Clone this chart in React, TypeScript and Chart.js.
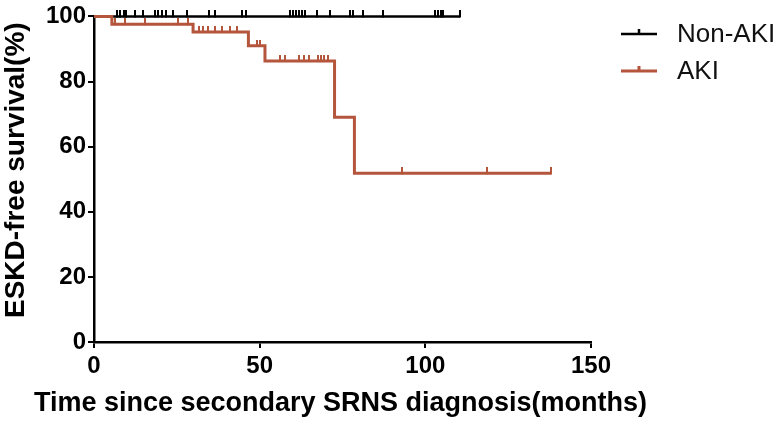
import React, { useEffect, useRef } from 'react';
import { Chart, registerables } from 'chart.js';

Chart.register(...registerables);

const xTickValues = [0, 50, 100, 150];
const yTickValues = [0, 20, 40, 60, 80, 100];
const xTitle = 'Time since secondary SRNS diagnosis(months)';
const yTitle = 'ESKD-free survival(%)';
const groupNames = ['Non-AKI', 'AKI'];
const groupColors = ['#000000', '#b4553c'];

const nonAkiTimes = [0, 110.5];
const nonAkiSurvival = [100, 100];
const nonAkiCensored = [6.9, 7.8, 9.1, 9.7, 12.4, 14.8, 18.4, 19.3, 20.5, 21.7, 23.8, 28.1, 34.7, 36.5, 44.7, 45.9, 59.2, 60.1, 61.0, 61.9, 62.8, 63.7, 67.3, 71.2, 77.3, 78.2, 81.2, 87.2, 102.9, 103.8, 104.7, 105.3, 110.5];

const akiTimes = [0, 5.4, 29.9, 46.6, 51.6, 72.6, 78.6, 138];
const akiSurvival = [100, 97.6, 95.2, 91.0, 86.3, 69.0, 51.8, 51.8];
const akiCensored = [6.2, 9.5, 15.5, 25.5, 28.4, 31.7, 32.9, 34.4, 36.5, 38.6, 41.0, 43.2, 49.2, 50.1, 56.0, 57.5, 62.0, 63.5, 65.0, 67.5, 68.5, 69.5, 70.5, 93.0, 118.6, 138];

const FONT = '"Liberation Sans", Arial, sans-serif';

function survivalAt(t: number, times: number[], surv: number[]) {
  let v = surv[0];
  for (let i = 0; i < times.length; i++) {
    if (times[i] <= t) v = surv[i];
  }
  return v;
}

function makeTick(color: string, w: number, h: number) {
  const c = document.createElement('canvas');
  c.width = w;
  c.height = h * 2;
  const ctx = c.getContext('2d')!;
  ctx.fillStyle = color;
  ctx.fillRect(0, 0, w, h + 1);
  return c;
}

const titlesPlugin = {
  id: 'kmTitles',
  afterDraw(chart: any) {
    const ctx = chart.ctx;
    const area = chart.chartArea;
    ctx.save();
    ctx.fillStyle = '#000';
    ctx.font = 'bold 27px ' + FONT;
    ctx.textAlign = 'center';
    ctx.textBaseline = 'middle';
    ctx.fillText(xTitle, (area.left + area.right) / 2 - 2, 404);
    ctx.translate(16, (area.top + area.bottom) / 2 - 9);
    ctx.rotate(-Math.PI / 2);
    ctx.font = 'bold 28px ' + FONT;
    ctx.fillText(yTitle, 0, 0);
    ctx.restore();
  },
};

const legendPlugin = {
  id: 'kmLegend',
  afterDraw(chart: any) {
    const ctx = chart.ctx;
    const rows = [34, 71];
    ctx.save();
    groupNames.forEach((name, i) => {
      const y = rows[i];
      ctx.strokeStyle = groupColors[i];
      ctx.lineWidth = i === 0 ? 2.5 : 3;
      ctx.beginPath();
      ctx.moveTo(621, y);
      ctx.lineTo(657, y);
      ctx.moveTo(639, y);
      ctx.lineTo(639, y - 5);
      ctx.stroke();
      ctx.fillStyle = '#111';
      ctx.font = '26px ' + FONT;
      ctx.textBaseline = 'middle';
      ctx.textAlign = 'left';
      ctx.fillText(name, 677, y + 1);
    });
    ctx.restore();
  },
};

export default function App() {
  const ref = useRef<HTMLCanvasElement>(null);
  useEffect(() => {
    const nonAkiTick = makeTick(groupColors[0], 2, 6);
    const akiTick = makeTick(groupColors[1], 2, 6);
    const chart = new Chart(ref.current!, {
      type: 'line',
      data: {
        datasets: [
          {
            label: groupNames[1] + ' censored',
            type: 'scatter',
            data: akiCensored.map((t) => ({ x: t, y: survivalAt(t, akiTimes, akiSurvival) })),
            pointStyle: akiTick as any,
            pointRadius: 3,
            showLine: false,
            clip: false as any,
            order: 0,
          },
          {
            label: groupNames[1],
            data: akiTimes.map((t, i) => ({ x: t, y: akiSurvival[i] })),
            borderColor: groupColors[1],
            borderWidth: 3,
            stepped: true,
            pointRadius: 0,
            fill: false,
            clip: false as any,
            order: 1,
          },
          {
            label: groupNames[0] + ' censored',
            type: 'scatter',
            data: nonAkiCensored.map((t) => ({ x: t, y: survivalAt(t, nonAkiTimes, nonAkiSurvival) })),
            pointStyle: nonAkiTick as any,
            pointRadius: 3,
            showLine: false,
            clip: false as any,
            order: 2,
          },
          {
            label: groupNames[0],
            data: nonAkiTimes.map((t, i) => ({ x: t, y: nonAkiSurvival[i] })),
            borderColor: groupColors[0],
            borderWidth: 2.5,
            stepped: true,
            pointRadius: 0,
            fill: false,
            clip: false as any,
            order: 3,
          },
        ],
      },
      options: {
        animation: false,
        responsive: true,
        maintainAspectRatio: false,
        layout: { padding: { top: 14, right: 189, left: 0, bottom: 0 } },
        plugins: { legend: { display: false }, tooltip: { enabled: false } },
        scales: {
          x: {
            type: 'linear',
            min: 0,
            max: 150,
            afterFit: (s: any) => { s.height = 80; },
            afterBuildTicks: (s: any) => { s.ticks = xTickValues.map((v) => ({ value: v })); },
            ticks: { color: '#000', font: { family: FONT, size: 24, weight: 'bold' }, padding: 4, maxRotation: 0 },
            grid: { display: true, drawOnChartArea: false, drawTicks: true, tickLength: 6, color: '#000', lineWidth: 2 },
            border: { display: true, color: '#000', width: 2.5 },
            title: { display: false },
          },
          y: {
            type: 'linear',
            min: 0,
            max: 100,
            afterFit: (s: any) => { s.width = 94; },
            afterBuildTicks: (s: any) => { s.ticks = yTickValues.map((v) => ({ value: v })); },
            ticks: { color: '#000', font: { family: FONT, size: 24, weight: 'bold' }, padding: 2 },
            grid: { display: true, drawOnChartArea: false, drawTicks: true, tickLength: 6, color: '#000', lineWidth: 2 },
            border: { display: true, color: '#000', width: 2.5 },
            title: { display: false },
          },
        },
      },
      plugins: [titlesPlugin, legendPlugin],
    } as any);
    return () => chart.destroy();
  }, []);
  return (
    <div style={{ position: 'absolute', left: 0, top: 0, width: 780, height: 422, background: '#fff' }}>
      <canvas ref={ref} />
    </div>
  );
}
